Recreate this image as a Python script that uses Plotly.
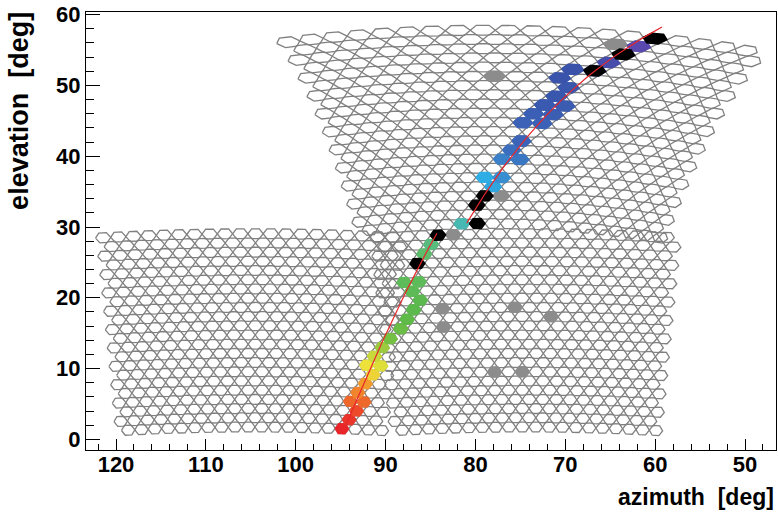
import numpy as np
import plotly.graph_objects as go
from plotly.colors import sample_colorscale

# ---------------- data ----------------
# camera pointing directions (two lower telescopes + one high-elevation telescope)
CAM_AZ0 = [104.9, 74.4, 75.3]
CAM_EL0 = [15.4, 15.4, 44.1]
CAM_ROLL = [0.0, 0.0, 2.3]
CAM_GROUP = ["low", "low", "high"]
N_ROWS, N_COLS = 22, 20

# triggered track pixels (approx. az, el), camera group, relative time (0 = early/red, 1 = late/purple)
TRK_AZ = [94.52, 93.74, 93.07, 93.85, 92.29, 93.07, 92.29, 91.51, 92.18, 90.62, 91.40, 90.62,
          89.84, 89.06, 88.40, 87.62, 86.95, 87.84, 86.39, 87.28, 85.61, 85.95, 85.28,
          81.72, 79.72, 78.19, 76.93, 76.71, 75.41, 75.96, 74.48, 75.41, 74.71, 73.18,
          73.60, 71.70, 72.82, 70.96, 71.93, 70.26, 70.96, 69.70, 69.85, 68.92, 66.47,
          65.03, 62.80]
TRK_EL = [1.70, 2.98, 4.26, 5.60, 5.60, 6.90, 8.20, 9.52, 10.80, 10.80, 12.07, 13.39,
          14.70, 15.99, 17.33, 18.61, 19.89, 21.19, 21.19, 22.50, 22.50, 25.80, 27.70,
          30.82, 37.50, 36.26, 37.50, 38.92, 40.06, 41.48, 41.48, 42.66, 44.08, 44.08,
          45.31, 45.31, 46.73, 46.73, 47.87, 47.87, 49.29, 49.29, 50.47, 51.70, 52.84,
          53.55, 55.26]
TRK_CAM = ["low"] * 23 + ["high"] * 24
TRK_T = [0.00, 0.03, 0.07, 0.10, 0.10, 0.13, 0.16, 0.20, 0.21, 0.23, 0.26, 0.29,
         0.33, 0.35, 0.37, 0.39, 0.40, 0.42, 0.42, 0.43, 0.43, 0.47, 0.49,
         0.54, 0.58, 0.59, 0.62, 0.64, 0.66, 0.68, 0.68, 0.70, 0.72, 0.72,
         0.74, 0.75, 0.77, 0.77, 0.79, 0.79, 0.81, 0.81, 0.83, 0.85, 0.88,
         0.90, 0.95]

# saturated / special pixels (black)
BLACK_AZ = [86.73, 84.50, 79.72, 80.61, 79.49, 67.47, 63.91, 60.58]
BLACK_EL = [25.14, 28.98, 30.82, 33.38, 34.66, 51.85, 54.26, 56.39]
BLACK_CAM = ["low", "low", "high", "high", "high", "high", "high", "high"]

# isolated noise pixels (grey)
NOISE_AZ = [88.21, 86.73, 83.61, 83.61, 75.96, 71.93, 78.16, 75.04, 82.64, 77.27, 78.05, 65.58]
NOISE_EL = [15.90, 18.61, 18.75, 16.19, 19.03, 17.76, 9.94, 9.94, 28.98, 34.84, 50.71, 55.68]
NOISE_CAM = ["low"] * 9 + ["high"] * 3

# fitted shower-detector-plane line, endpoints per telescope group
LINE_AZ = [[94.68, 84.28], [80.97, 59.24]]
LINE_EL = [[1.28, 29.12], [30.54, 58.24]]

X_TICKS = [120, 110, 100, 90, 80, 70, 60, 50]
Y_TICKS = [0, 10, 20, 30, 40, 50, 60]

TIME_SCALE = [[0.00, "#e8262a"], [0.07, "#ec4a2a"], [0.12, "#f07c2c"], [0.17, "#f4a42e"],
              [0.21, "#ece23a"], [0.26, "#c9d83a"], [0.31, "#7fc342"], [0.38, "#5ab84a"],
              [0.46, "#60bd62"], [0.53, "#4dbba6"], [0.58, "#2eaee4"], [0.63, "#3a86cc"],
              [0.70, "#3b64b8"], [0.85, "#3a52aa"], [0.93, "#5048ac"], [1.00, "#6e4cb8"]]

# ---------------- geometry ----------------
DU, DV, HH = 1.53, 1.3, 0.69
HEX_U = np.array([0.5, 0.25, -0.25, -0.5, -0.25, 0.25, 0.5]) * DU
HEX_V = np.array([0.0, HH, HH, 0.0, -HH, -HH, 0.0])


def project(u, v, az0, el0, roll):
    r = np.radians(roll)
    u, v = u * np.cos(r) - v * np.sin(r), u * np.sin(r) + v * np.cos(r)
    u = np.radians(u)
    v = np.radians(v)
    x = np.cos(v) * np.cos(u)
    y = np.cos(v) * np.sin(u)
    z = np.sin(v)
    e = np.radians(el0)
    xr = x * np.cos(e) - z * np.sin(e)
    zr = x * np.sin(e) + z * np.cos(e)
    return az0 + np.degrees(np.arctan2(y, xr)), np.degrees(np.arcsin(np.clip(zr, -1, 1)))


pix = []  # (group, center_az, center_el, poly_az, poly_el)
for c in range(len(CAM_AZ0)):
    for i in range(N_ROWS):
        v = (i - (N_ROWS - 1) / 2) * DV
        shift = 0.25 * DU if i % 2 else -0.25 * DU
        for j in range(N_COLS):
            u = (j - (N_COLS - 1) / 2) * DU + shift
            caz, cel = project(u, v, CAM_AZ0[c], CAM_EL0[c], CAM_ROLL[c])
            paz, pel = project(u + HEX_U, v + HEX_V, CAM_AZ0[c], CAM_EL0[c], CAM_ROLL[c])
            pix.append((CAM_GROUP[c], float(caz), float(cel), paz, pel))


def snap(az, el, group):
    best, bd = None, 1e9
    for p in pix:
        if p[0] != group:
            continue
        d = ((p[1] - az) * np.cos(np.radians(el))) ** 2 + (p[2] - el) ** 2
        if d < bd:
            bd, best = d, p
    return best


fig = go.Figure()

# grid outlines
gx, gy = [], []
for p in pix:
    gx += list(p[3]) + [None]
    gy += list(p[4]) + [None]
fig.add_trace(go.Scatter(x=gx, y=gy, mode="lines", line=dict(color="#808080", width=1.3),
                         hoverinfo="skip", showlegend=False))


def add_pixel(p, col):
    fig.add_trace(go.Scatter(x=list(p[3]), y=list(p[4]), mode="lines", fill="toself",
                             fillcolor=col, line=dict(color=col, width=1.5),
                             hoverinfo="skip", showlegend=False))


for az, el, g in zip(NOISE_AZ, NOISE_EL, NOISE_CAM):
    add_pixel(snap(az, el, g), "#8c8c8c")

track_cols = sample_colorscale(TIME_SCALE, TRK_T)
for az, el, g, col in zip(TRK_AZ, TRK_EL, TRK_CAM, track_cols):
    add_pixel(snap(az, el, g), col)

for az, el, g in zip(BLACK_AZ, BLACK_EL, BLACK_CAM):
    add_pixel(snap(az, el, g), "#000000")


# fitted line (great circle between endpoints)
def great_circle(az, el, n=60):
    a = np.radians(az)
    e = np.radians(el)
    v = np.stack([np.cos(e) * np.cos(a), np.cos(e) * np.sin(a), np.sin(e)], axis=1)
    om = np.arccos(np.clip(np.dot(v[0], v[1]), -1, 1))
    t = np.linspace(0, 1, n)
    pts = (np.sin((1 - t) * om)[:, None] * v[0] + np.sin(t * om)[:, None] * v[1]) / np.sin(om)
    return np.degrees(np.arctan2(pts[:, 1], pts[:, 0])), np.degrees(np.arcsin(pts[:, 2]))


for az, el in zip(LINE_AZ, LINE_EL):
    lx, ly = great_circle(az, el)
    fig.add_trace(go.Scatter(x=lx, y=ly, mode="lines", line=dict(color="#e8262a", width=1.2),
                             hoverinfo="skip", showlegend=False))

FONT = "Liberation Sans, Arial, Helvetica, sans-serif"

fig.update_layout(
    width=778, height=517,
    margin=dict(l=86, r=2, t=12, b=67),
    paper_bgcolor="white", plot_bgcolor="white",
    showlegend=False,
    xaxis=dict(range=[123.34, 46.55], tickvals=X_TICKS, ticks="inside", ticklen=11,
               tickwidth=1, tickcolor="black", showline=True, linecolor="black", linewidth=1,
               mirror=True, showgrid=False, zeroline=False, ticklabelstandoff=-5,
               minor=dict(ticks="inside", dtick=2, ticklen=6, tickcolor="black", showgrid=False),
               tickfont=dict(family=FONT, size=22, color="black", weight="bold")),
    yaxis=dict(range=[-1.5, 60.37], tickvals=Y_TICKS, ticks="inside", ticklen=14,
               tickwidth=1, tickcolor="black", showline=True, linecolor="black", linewidth=1,
               mirror=True, showgrid=False, zeroline=False,
               minor=dict(ticks="inside", dtick=2, ticklen=8, tickcolor="black", showgrid=False),
               tickfont=dict(family=FONT, size=22, color="black", weight="bold")),
    annotations=[
        dict(text="azimuth\u00a0\u00a0[deg]", xref="paper", yref="paper", x=1.0, y=-0.107,
             xanchor="right", yanchor="middle", showarrow=False,
             font=dict(family=FONT, size=23, color="black", weight="bold")),
        dict(text="elevation\u00a0\u00a0[deg]", xref="paper", yref="paper", x=-0.097, y=1.005,
             xanchor="center", yanchor="top", textangle=-90, showarrow=False,
             font=dict(family=FONT, size=27, color="black", weight="bold")),
    ],
)

fig.write_html("out.html")
